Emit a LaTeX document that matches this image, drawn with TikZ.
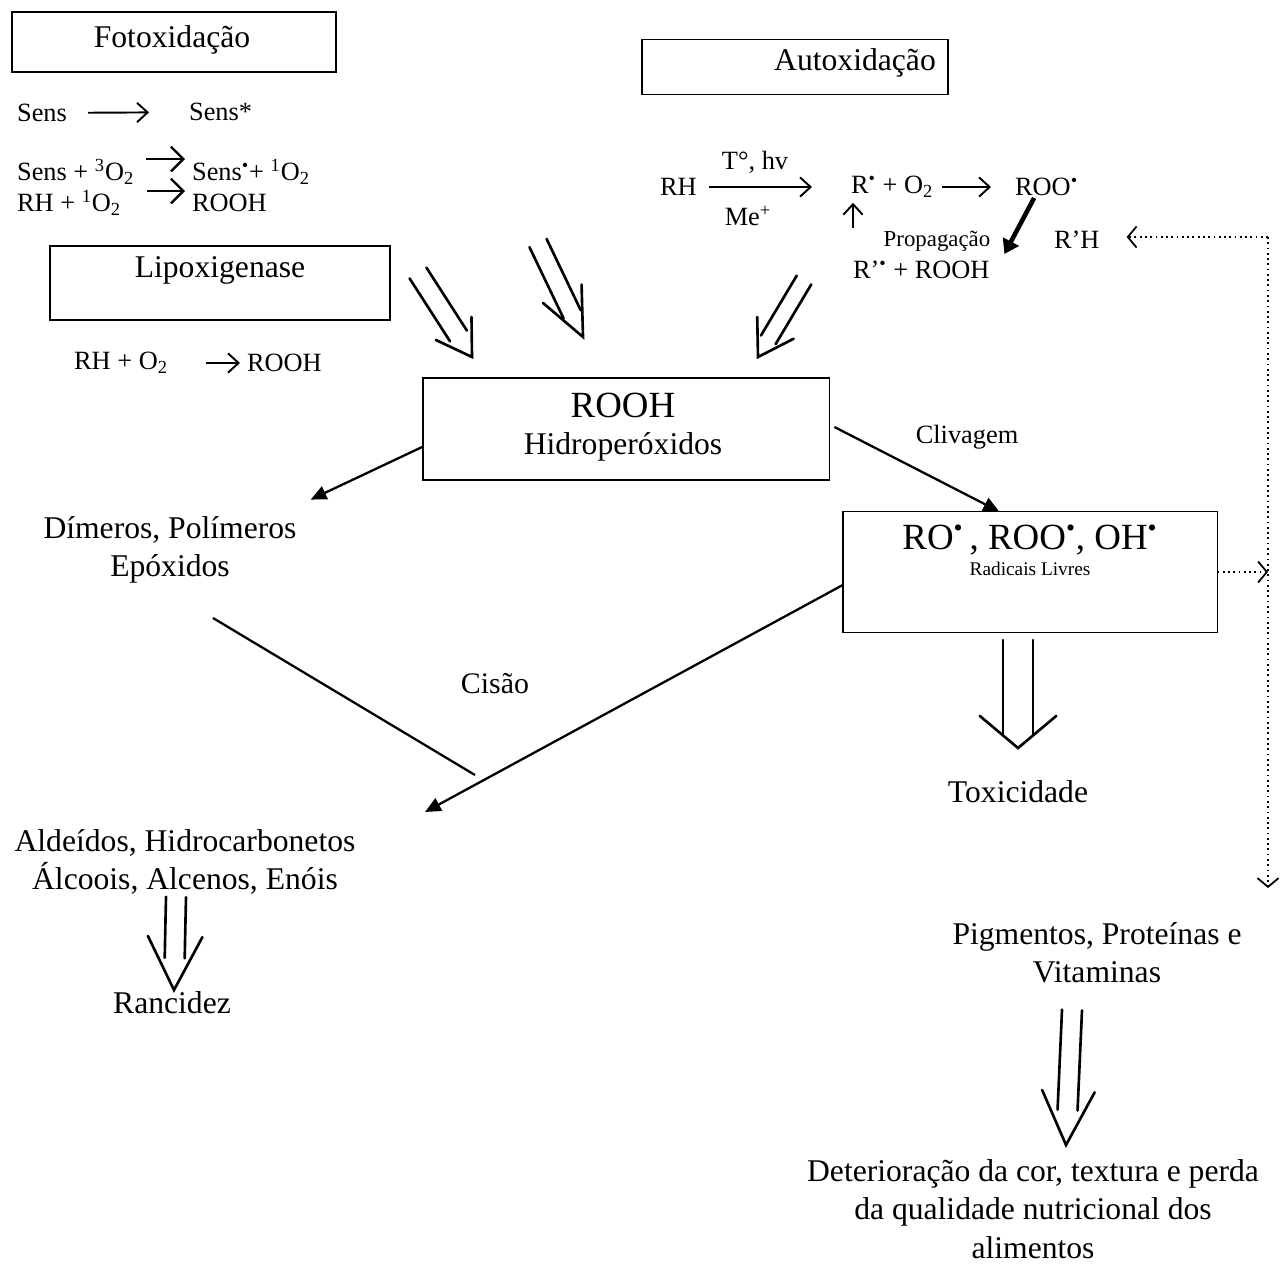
\documentclass[tikz,border=0pt]{standalone}
\usepackage{fontspec}
\setmainfont{Liberation Serif}
\usetikzlibrary{arrows.meta,calc}

\newcommand{\setadupla}[6]{%
  \coordinate (dA) at (#1);
  \coordinate (dB) at (#2);
  \coordinate (dC) at ($(dB)!#4!(dA)$);
  \draw[dupla] ($(dA)!#3!90:(dB)$) -- ($(dC)!#3!-90:(dA)$);
  \draw[dupla] ($(dA)!#3!-90:(dB)$) -- ($(dC)!#3!90:(dA)$);
  \draw[dupla] ($(dB)!#5!#6:(dA)$) -- (dB) -- ($(dB)!#5!-#6:(dA)$);
}

\begin{document}
\begin{tikzpicture}[
    x=0.02cm, y=-0.02cm,
    caixa/.style={
      rectangle,
      draw=black,
      line width=1.1pt,
      inner sep=0pt,
      outer sep=0pt
    },
    texto/.style={font=\fontsize{18}{21.5}\selectfont, align=center},
    reacao/.style={font=\fontsize{15}{17}\selectfont, inner sep=1pt, anchor=west},
    seta/.style={line width=1.3pt, -{Triangle[length=9pt,width=8pt]}},
    setinha/.style={line width=1.1pt, -{Straight Barb[length=6pt,width=11pt]}},
    setao/.style={line width=1.4pt, -{Straight Barb[length=7pt,width=14pt]}},
    pontos/.style={line width=1pt, dotted, -{Straight Barb[length=5pt,width=12pt]}},
    dupla/.style={line width=1.5pt, line cap=round},
]

\useasboundingbox (0,0) rectangle (1283,1272);

% Fotoxidacao
\node[caixa, minimum width=6.48cm, minimum height=1.2cm] (foto) at (174,42) {};
\node[texto] at (172,40) {Fotoxidação};

\node[reacao] (sens) at (15,113) {Sens};
\node[reacao] (sensx) at (187,112) {Sens*};
\node[reacao] (sens3) at (15,172) {Sens + \textsuperscript{3}O\textsubscript{2}};
\node[reacao] (sens1) at (190,172) {Sens\textsuperscript{\textbullet}+ \textsuperscript{1}O\textsubscript{2}};
\node[reacao] (rh1) at (15,203) {RH + \textsuperscript{1}O\textsubscript{2}};
\node[reacao] (rooh1) at (190,203) {ROOH};

\draw[setinha, shorten <=0.38cm, shorten >=0.76cm] (sens) -- (sensx);
\draw[setao, shorten <=0.2cm, shorten >=0.1cm] ([yshift=0.26cm]sens3.east) -- ([yshift=0.26cm]sens1.west);
\draw[setao, shorten <=0.48cm, shorten >=0.1cm] ([yshift=0.24cm]rh1.east) -- ([yshift=0.24cm]rooh1.west);

% Lipoxigenase
\node[caixa, minimum width=6.8cm, minimum height=1.48cm] (lipo) at (220,283) {};
\node[texto] at (220,270) {Lipoxigenase};

\node[reacao] (rhl) at (72,363) {RH + O\textsubscript{2}};
\node[reacao] (roohl) at (245,363) {ROOH};
\draw[setinha, shorten <=0.72cm, shorten >=0.1cm] (rhl) -- (roohl);

% Autoxidacao
\node[caixa, minimum width=6.12cm, minimum height=1.1cm] (auto) at (795,67) {};
\node[texto] at (855,63) {Autoxidação};

\node[reacao] (rh) at (658,187) {RH};
\node[reacao, anchor=center] (tempo) at (755,162) {T°, hv};
\node[reacao, anchor=center] (me) at (748,216) {Me\textsuperscript{+}};
\node[reacao] (ra) at (849,187) {R\textsuperscript{\textbullet} + O\textsubscript{2}};
\node[reacao] (roo) at (1013,187) {ROO\textsuperscript{\textbullet}};
\node[font=\fontsize{13}{15}\selectfont, inner sep=1pt] (propag) at (937,241) {Propagação};
\node[reacao] (rlh) at (1052,240) {R’H};
\node[reacao] (rlr) at (851,270) {R’\textsuperscript{\textbullet} + ROOH};

\draw[setinha, shorten <=0.2cm, shorten >=0.74cm] (rh) -- (ra);
\draw[setinha, shorten <=0.14cm, shorten >=0.44cm] (ra) -- (roo);
\draw[setinha] ([xshift=0.08cm, yshift=-0.56cm]ra.south west) -- ([xshift=0.08cm, yshift=-0.06cm]ra.south west);
\draw[line width=2.6pt, -{Triangle[length=8pt,width=10pt]}] ([xshift=-0.25cm]roo.south) -- ([shift={(0.24cm,-0.26cm)}]propag.east);

% setas duplas de entrada
\setadupla{418,273}{472,357}{0.2cm}{0.5cm}{0.8cm}{32}
\setadupla{538,243}{583,337}{0.19cm}{0.5cm}{1.05cm}{24}
\setadupla{804,280}{758,357}{0.17cm}{0.4cm}{0.8cm}{32}

% Hidroperoxidos
\node[caixa, minimum width=8.14cm, minimum height=2.04cm] (rooh) at (626,429) {};
\node[font=\fontsize{21}{24}\selectfont] at (623,405) {ROOH};
\node[texto] at (623,447) {Hidroperóxidos};

\node[texto] (dimeros) at (170,550) {Dímeros, Polímeros\\Epóxidos};
\node[font=\fontsize{15}{17}\selectfont] (clivagem) at (967,437) {Clivagem};

% Radicais livres
\node[caixa, minimum width=7.5cm, minimum height=2.42cm] (radicais) at (1030,572) {};
\node[font=\fontsize{21}{24}\selectfont] at (1030,540) {RO\textsuperscript{\textbullet}\,, ROO\textsuperscript{\textbullet}, OH\textsuperscript{\textbullet}};
\node[font=\fontsize{11}{13}\selectfont] at (1030,569) {Radicais Livres};

\draw[seta] (rooh.185) -- ([shift={(0.16cm,0.22cm)}]dimeros.north east);
\draw[seta] ([shift={(0.1cm,0.04cm)}]rooh.east) -- (radicais.117);

% Cisao
\node[font=\fontsize{17}{20}\selectfont] (cisao) at (495,684) {Cisão};
\coordinate (cisaoA) at (213,618);
\coordinate (cisaoB) at (475,775);
\coordinate (cisaoFim) at (425,812);
\draw[line width=1.3pt] (cisaoA) -- (cisaoB);
\draw[seta] (radicais.184) -- (cisaoFim);

\node[texto] (aldeidos) at (185,862) {Aldeídos, Hidrocarbonetos\\Álcoois, Alcenos, Enóis};
\node[texto] (rancidez) at (172,1003) {Rancidez};
\setadupla{176,897}{174,990}{0.2cm}{0.64cm}{1.2cm}{27}

\node[texto] (toxicidade) at (1018,792) {Toxicidade};
\setadupla{1018,640}{1018,748}{0.3cm}{0.26cm}{1.0cm}{50}

\node[texto] (pigmentos) at (1097,953) {Pigmentos, Proteínas e\\Vitaminas};
\node[texto, font=\fontsize{18}{22}\selectfont] (deterioracao) at (1033,1209) {Deterioração da cor, textura e perda\\da qualidade nutricional dos\\alimentos};
\setadupla{1072,1010}{1066,1145}{0.2cm}{0.7cm}{1.2cm}{26}

% linha pontilhada
\coordinate (canto) at (1268,237);
\coordinate (fundo) at (1268,888);
\draw[pontos] (canto) -- ([xshift=0.5cm]canto -| rlh.east);
\draw[pontos] (canto) -- (fundo);
\draw[pontos] (radicais.east) -- (radicais.east -| canto);

\end{tikzpicture}
\end{document}
